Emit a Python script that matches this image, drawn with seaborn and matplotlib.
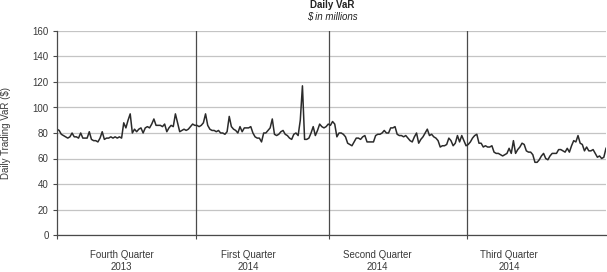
import numpy as np
import pandas as pd
import matplotlib
matplotlib.use("Agg")
import matplotlib.pyplot as plt
import matplotlib.transforms as mtransforms
import seaborn as sns

# ---- data ----
q4_2013 = [83, 82, 79, 78, 77, 76, 77, 80, 77, 77, 76, 80, 76, 76, 76, 81, 75, 74, 74, 73,
           76, 81, 75, 76, 76, 77, 76, 77, 76, 77, 76, 88, 84, 90, 95, 80, 83, 81, 83, 84,
           80, 84, 85, 84, 87, 91, 86, 86, 86, 85, 87, 81, 84, 86, 85, 95, 88, 81, 82, 83,
           82, 83, 85, 87, 86]
q1_2014 = [86, 85, 86, 88, 95, 86, 83, 82, 82, 81, 82, 80, 80, 79, 81, 93, 85, 83, 82, 80,
           85, 81, 84, 84, 84, 85, 80, 77, 76, 76, 73, 80, 80, 82, 84, 91, 79, 78, 79, 81,
           82, 79, 78, 76, 75, 79, 80, 78, 90, 117, 75, 75, 76, 80, 85, 78, 82, 87, 85, 84,
           85, 87]
q2_2014 = [86, 89, 87, 77, 80, 80, 79, 77, 72, 71, 70, 73, 76, 76, 75, 77, 78, 73, 73, 73,
           73, 78, 79, 79, 80, 82, 80, 80, 84, 84, 85, 79, 78, 78, 77, 78, 76, 74, 73, 77,
           80, 72, 75, 77, 80, 83, 78, 79, 77, 76, 74, 69, 70, 70, 71, 76, 74, 70, 72, 78,
           73, 78, 74, 70]
q3_2014 = [71, 73, 76, 78, 79, 72, 72, 69, 70, 69, 69, 70, 65, 64, 64, 63, 62, 63, 64, 68,
           64, 74, 64, 67, 69, 72, 71, 66, 65, 65, 63, 57, 57, 59, 62, 64, 60, 59, 62, 64,
           64, 64, 67, 67, 66, 65, 68, 65, 70, 74, 73, 78, 72, 71, 66, 69, 66, 66, 67, 64,
           61, 62, 60, 61, 68]
quarter_names = ["Fourth Quarter", "First Quarter", "Second Quarter", "Third Quarter"]
quarter_years = ["2013", "2014", "2014", "2014"]
y_ticks = [0, 20, 40, 60, 80, 100, 120, 140, 160]

series = [q4_2013, q1_2014, q2_2014, q3_2014]
vals = np.concatenate(series).astype(float)
df = pd.DataFrame({"day": np.arange(len(vals)), "var": vals})
lens = [len(s) for s in series]
bounds = np.cumsum(lens)[:-1] - 0.5

plt.rcParams["font.family"] = ["Liberation Sans", "DejaVu Sans"]
fig = plt.figure(figsize=(6.07, 2.72), dpi=100)
ax = fig.add_axes([57 / 607, 37 / 272, 549 / 607, 204 / 272])

sns.lineplot(data=df, x="day", y="var", ax=ax, color="#2b2b2b", linewidth=1.1)

ax.set_xlim(0, len(vals) - 1)
ax.set_ylim(0, 160)
ax.set_yticks(y_ticks)
ax.yaxis.grid(True, color="#c4c4c4", linewidth=0.9)
ax.set_axisbelow(True)
for b in bounds:
    ax.axvline(b, color="#4a4a4a", linewidth=0.9, zorder=1)

ax.set_xticks([0] + list(bounds))
ax.set_xticklabels([])
ax.tick_params(axis="x", length=3, width=0.8, color="#4a4a4a")
ax.tick_params(axis="y", length=3, width=0.8, color="#4a4a4a", labelsize=7,
               labelcolor="#3a3a3a", pad=3)
for s in ["top", "right"]:
    ax.spines[s].set_visible(False)
for s in ["left", "bottom"]:
    ax.spines[s].set_color("#4a4a4a")
    ax.spines[s].set_linewidth(0.9)
ax.set_xlabel("")
ax.set_ylabel("Daily Trading VaR ($)", fontsize=7, color="#3a3a3a", va="center")
ax.yaxis.set_label_coords(-(57 - 6) / 549, 0.5)

label_x = [30, 89, 149, 210]
trans = mtransforms.blended_transform_factory(ax.transData, fig.transFigure)
for lx, nm, yr in zip(label_x, quarter_names, quarter_years):
    ax.text(lx, 1 - 255.5 / 272, nm, transform=trans, ha="center", va="center",
            fontsize=7, color="#3a3a3a")
    ax.text(lx, 1 - 267.5 / 272, yr, transform=trans, ha="center", va="center",
            fontsize=7, color="#3a3a3a")

fig.text(332 / 607, 1 - 5.5 / 272, "Daily VaR", ha="center", va="center",
         fontsize=7, fontweight="bold", color="#222222")
fig.text(332 / 607, 1 - 17 / 272, "$ in millions", ha="center", va="center",
         fontsize=7, style="italic", color="#222222")

fig.savefig("out.png", dpi=100)
